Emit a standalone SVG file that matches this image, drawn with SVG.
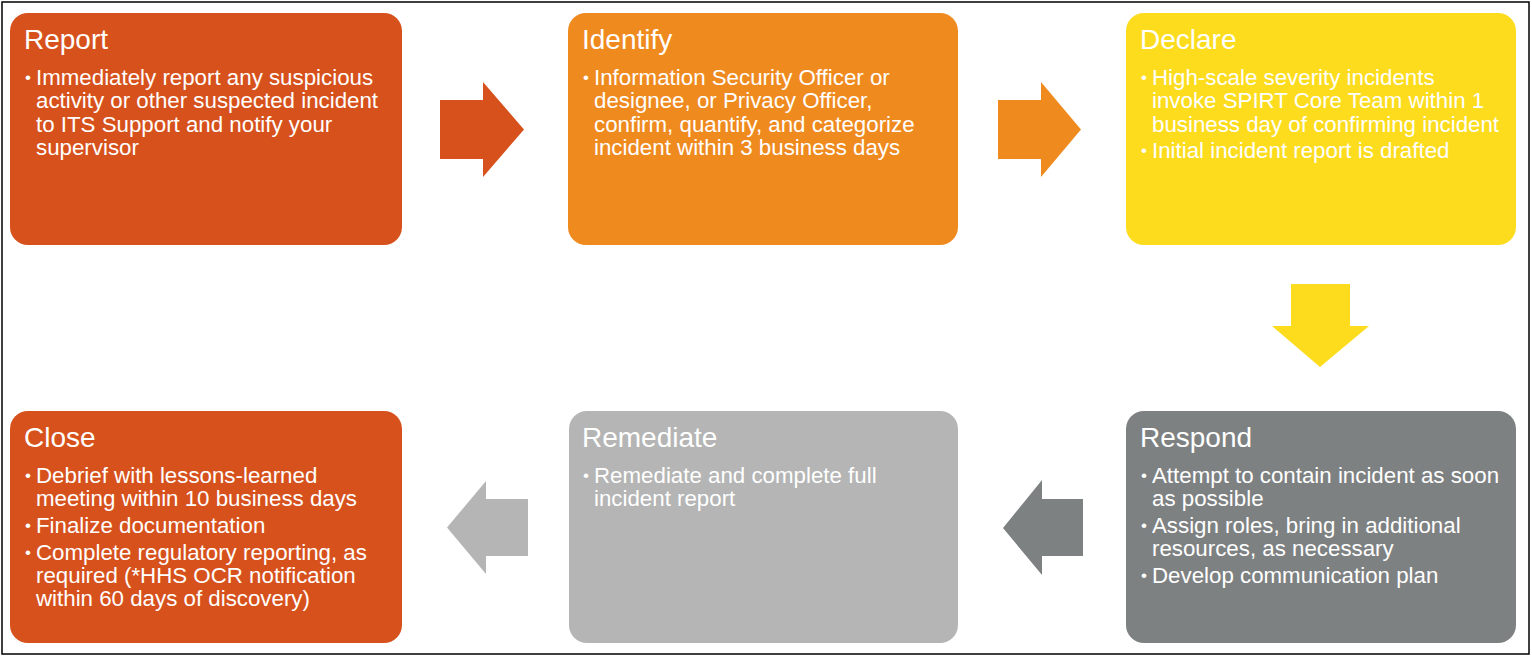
<svg xmlns="http://www.w3.org/2000/svg" width="1532" height="658" viewBox="0 0 1532 658">
  <style>
    .box { stroke: none; }
    .title { font-family: "Liberation Sans", Arial, sans-serif; font-size: 28px; fill: #ffffff; }
    .body { font-family: "Liberation Sans", Arial, sans-serif; font-size: 22.3px; fill: #ffffff; }
    .bul { font-family: "Liberation Sans", Arial, sans-serif; font-size: 17px; fill: #ffffff; }
    .orange-red { fill: #D7511C; }
    .orange { fill: #EF8A1F; }
    .yellow { fill: #FDDC1E; }
    .dgray { fill: #7E8182; }
    .lgray { fill: #B4B5B4; }
  </style>
  <rect x="0" y="0" width="1532" height="658" fill="#ffffff"/>
  <rect x="2" y="2" width="1527" height="652" fill="none" stroke="#000000" stroke-width="1.5"/>

  <g id="connectors">
    <polygon class="orange-red" points="440,100 483,100 483,82 524,129.5 483,177 483,159 440,159"/>
    <polygon class="orange" points="998,100 1041,100 1041,82 1081,129.5 1041,177 1041,159 998,159"/>
    <polygon class="yellow" points="1291,284 1350,284 1350,326 1369,326 1320,367 1272,326 1291,326"/>
    <polygon class="dgray" points="1083,499 1042,499 1042,480 1003,528 1042,575 1042,556 1083,556"/>
    <polygon class="lgray" points="528,499 486,499 486,481 447,527.5 486,574 486,556 528,556"/>
  </g>

  <g id="report">
    <rect class="box orange-red" x="10" y="13" width="392" height="232" rx="18"/>
    <text class="title" x="24" y="49">Report</text>
    <text class="bul" x="25" y="83">•</text>
    <text class="body" x="36" y="85">Immediately report any suspicious</text>
    <text class="body" x="36" y="108.3">activity or other suspected incident</text>
    <text class="body" x="36" y="131.6">to ITS Support and notify your</text>
    <text class="body" x="36" y="154.9">supervisor</text>
  </g>

  <g id="identify">
    <rect class="box orange" x="568" y="13" width="390" height="232" rx="18"/>
    <text class="title" x="582" y="49">Identify</text>
    <text class="bul" x="583" y="83">•</text>
    <text class="body" x="594" y="85">Information Security Officer or</text>
    <text class="body" x="594" y="108.3">designee, or Privacy Officer,</text>
    <text class="body" x="594" y="131.6">confirm, quantify, and categorize</text>
    <text class="body" x="594" y="154.9">incident within 3 business days</text>
  </g>

  <g id="declare">
    <rect class="box yellow" x="1126" y="13" width="390" height="232" rx="18"/>
    <text class="title" x="1140" y="49">Declare</text>
    <text class="bul" x="1141" y="83">•</text>
    <text class="body" x="1152" y="85">High-scale severity incidents</text>
    <text class="body" x="1152" y="108.3">invoke SPIRT Core Team within 1</text>
    <text class="body" x="1152" y="131.6">business day of confirming incident</text>
    <text class="bul" x="1141" y="156.3">•</text>
    <text class="body" x="1152" y="158.3">Initial incident report is drafted</text>
  </g>

  <g id="respond">
    <rect class="box dgray" x="1126" y="411" width="390" height="232" rx="18"/>
    <text class="title" x="1140" y="447">Respond</text>
    <text class="bul" x="1141" y="481">•</text>
    <text class="body" x="1152" y="483">Attempt to contain incident as soon</text>
    <text class="body" x="1152" y="506.3">as possible</text>
    <text class="bul" x="1141" y="531">•</text>
    <text class="body" x="1152" y="533">Assign roles, bring in additional</text>
    <text class="body" x="1152" y="556.3">resources, as necessary</text>
    <text class="bul" x="1141" y="581">•</text>
    <text class="body" x="1152" y="583">Develop communication plan</text>
  </g>

  <g id="remediate">
    <rect class="box lgray" x="569" y="411" width="389" height="232" rx="18"/>
    <text class="title" x="582" y="447">Remediate</text>
    <text class="bul" x="583" y="481">•</text>
    <text class="body" x="594" y="483">Remediate and complete full</text>
    <text class="body" x="594" y="506.3">incident report</text>
  </g>

  <g id="close">
    <rect class="box orange-red" x="10" y="411" width="392" height="232" rx="18"/>
    <text class="title" x="24" y="447">Close</text>
    <text class="bul" x="25" y="481">•</text>
    <text class="body" x="36" y="483">Debrief with lessons-learned</text>
    <text class="body" x="36" y="506.3">meeting within 10 business days</text>
    <text class="bul" x="25" y="531">•</text>
    <text class="body" x="36" y="533">Finalize documentation</text>
    <text class="bul" x="25" y="557.5">•</text>
    <text class="body" x="36" y="559.5">Complete regulatory reporting, as</text>
    <text class="body" x="36" y="582.8">required (*HHS OCR notification</text>
    <text class="body" x="36" y="606.1">within 60 days of discovery)</text>
  </g>
</svg>
